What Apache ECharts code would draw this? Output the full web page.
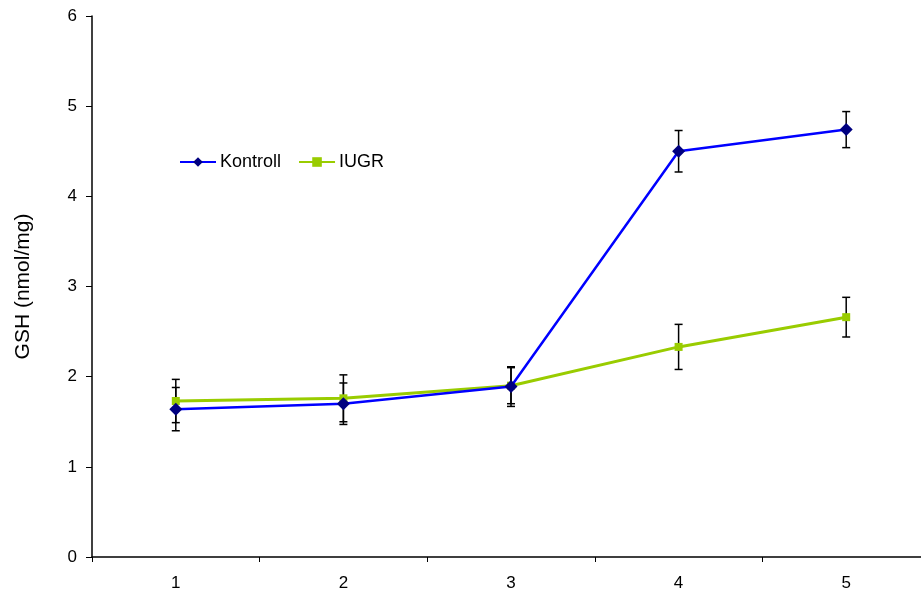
<!DOCTYPE html>
<html><head><meta charset="utf-8">
<script src="https://cdn.jsdelivr.net/npm/echarts@6/dist/echarts.min.js"></script>
<style>html,body{margin:0;padding:0;background:#fff;overflow:hidden;width:921px;height:593px}#c{width:930px;height:593px}</style>
</head><body><div id="c"></div>
<script>
const categories = ['1','2','3','4','5'];
const kontroll = [1.64, 1.70, 1.89, 4.50, 4.74];
const kontrollErr = [0.24, 0.23, 0.22, 0.23, 0.20];
const iugr = [1.73, 1.76, 1.90, 2.33, 2.66];
const iugrErr = [0.24, 0.26, 0.20, 0.25, 0.22];
const yTicks = [0, 1, 2, 3, 4, 5, 6];

function errSeries(vals, errs) {
  return {
    type: 'custom',
    z: 1,
    silent: true,
    data: vals.map((v, i) => [i, v - errs[i], v + errs[i]]),
    renderItem: function (params, api) {
      const lo = api.coord([api.value(0), api.value(1)]);
      const hi = api.coord([api.value(0), api.value(2)]);
      const w = 4;
      const st = { stroke: '#000', lineWidth: 1.5 };
      return { type: 'group', children: [
        { type: 'line', shape: { x1: hi[0], y1: hi[1], x2: lo[0], y2: lo[1] }, style: st },
        { type: 'line', shape: { x1: hi[0]-w, y1: hi[1], x2: hi[0]+w, y2: hi[1] }, style: st },
        { type: 'line', shape: { x1: lo[0]-w, y1: lo[1], x2: lo[0]+w, y2: lo[1] }, style: st }
      ]};
    }
  };
}

const FF = 'Liberation Sans, Arial, sans-serif';
const chart = echarts.init(document.getElementById('c'));
chart.setOption({
  animation: false,
  textStyle: { fontFamily: FF },
  grid: { left: 92, top: 16, bottom: 36, right: 0, containLabel: false },
  legend: {
    left: 174, top: 148, itemGap: 17, itemWidth: 36, itemHeight: 12,
    textStyle: { color: '#000', fontSize: 18, fontFamily: FF, padding: [0,0,0,-1] },
    data: ['Kontroll', 'IUGR']
  },
  xAxis: {
    type: 'category', data: categories, boundaryGap: true,
    axisLine: { lineStyle: { color: '#000', width: 1.5 } },
    axisTick: { show: true, length: 5, lineStyle: { color: '#000' } },
    axisLabel: { color: '#000', fontSize: 17, margin: 18 }
  },
  yAxis: {
    type: 'value', min: 0, max: 6, interval: 1,
    name: 'GSH (nmol/mg)', nameLocation: 'middle', nameGap: 58,
    nameTextStyle: { color: '#000', fontSize: 21 },
    splitLine: { show: false },
    axisLine: { show: true, lineStyle: { color: '#000', width: 1.5 } },
    axisTick: { show: true, length: 6, lineStyle: { color: '#000' } },
    axisLabel: { color: '#000', fontSize: 17, margin: 15,
      formatter: v => yTicks.includes(v) ? String(v) : '' }
  },
  series: [
    errSeries(kontroll, kontrollErr),
    errSeries(iugr, iugrErr),
    {
      name: 'Kontroll', type: 'line', data: kontroll, z: 3,
      symbol: 'diamond', symbolSize: 13,
      lineStyle: { color: '#0000ff', width: 2.5 },
      itemStyle: { color: '#000080' }
    },
    {
      name: 'IUGR', type: 'line', data: iugr, z: 2,
      symbol: 'rect', symbolSize: 8,
      lineStyle: { color: '#99cc00', width: 3 },
      itemStyle: { color: '#99cc00' }
    }
  ]
});
</script></body></html>
